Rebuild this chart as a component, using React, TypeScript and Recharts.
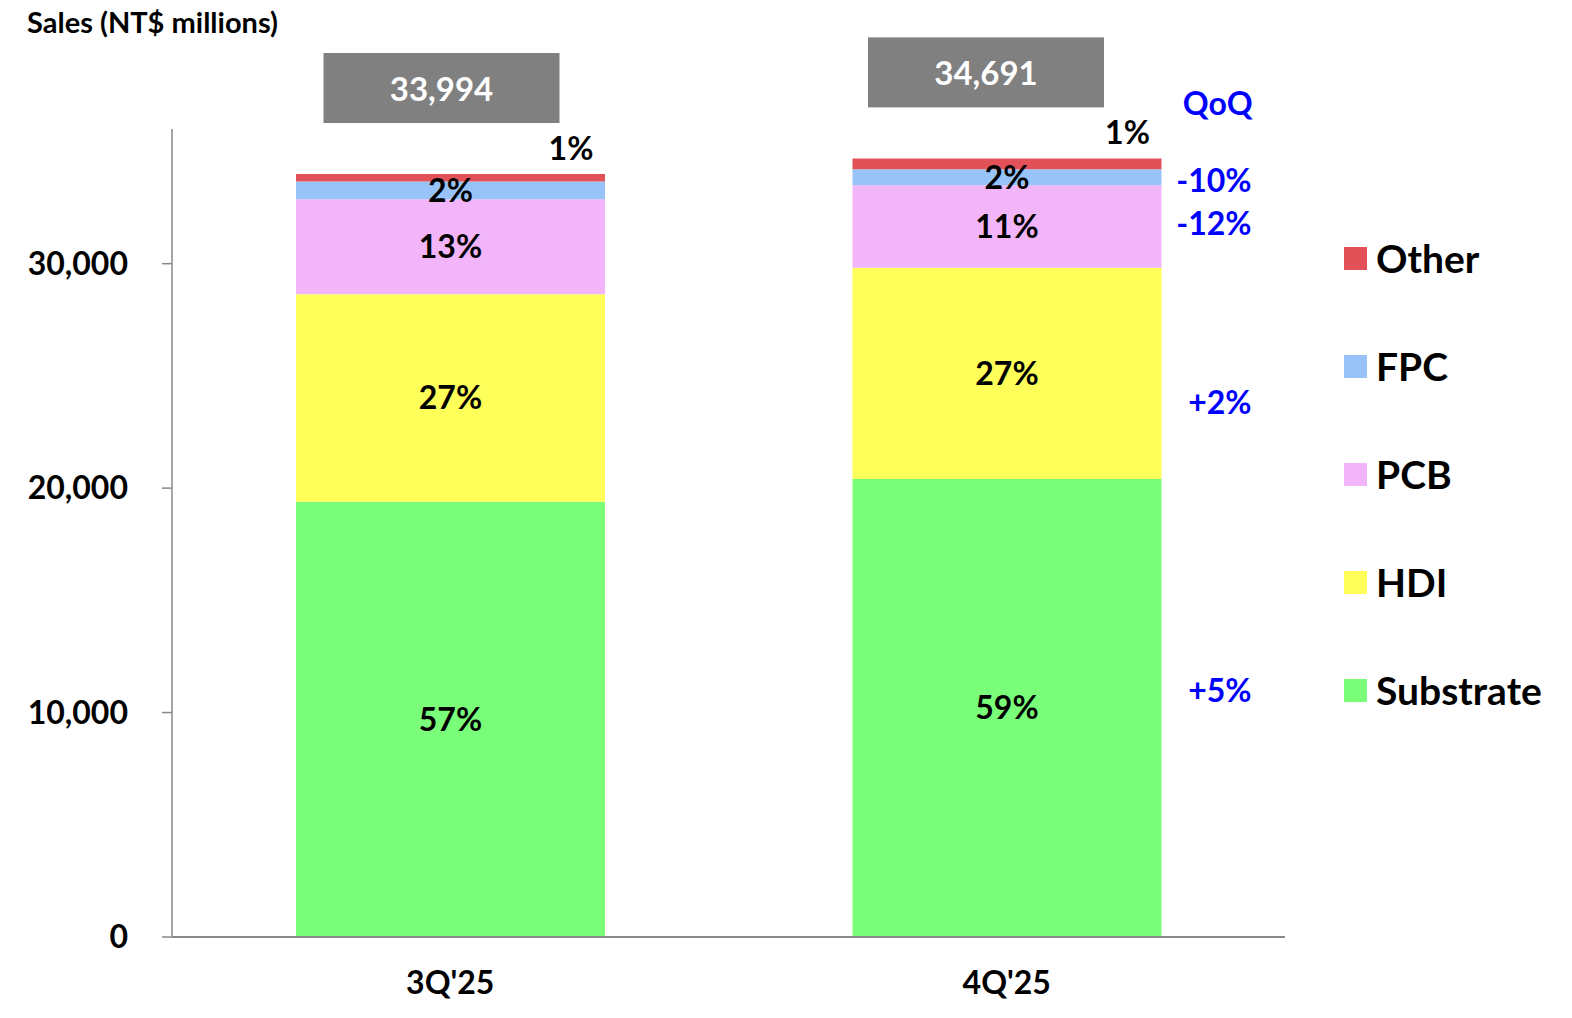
import { BarChart, Bar, XAxis, YAxis, Legend, LabelList } from 'recharts'

const FONT = 'Lato, "Open Sans", sans-serif'

// values (NT$ millions)
const quarters = ["3Q'25", "4Q'25"]
const substrate = [19390, 20401]
const hdi = [9251, 9412]
const pcb = [4232, 3684]
const fpc = [789, 712]
const other = [332, 482]
const totals = [33994, 34691]

// share labels as printed on the slide
const substratePct = ['57%', '59%']
const hdiPct = ['27%', '27%']
const pcbPct = ['13%', '11%']
const fpcPct = ['2%', '2%']
const otherPct = ['1%', '1%']

// QoQ change, shown next to the latest quarter only
const substrateQoq = ['', '+5%']
const hdiQoq = ['', '+2%']
const pcbQoq = ['', '-12%']
const fpcQoq = ['', '-10%']
const qoqHeader = ['', 'QoQ']

const yTicks = [0, 10000, 20000, 30000]

const series = [
  { key: 'Substrate', color: '#7AFE7A', values: substrate, pct: substratePct, qoq: substrateQoq, qoqDy: -19 },
  { key: 'HDI', color: '#FFFF59', values: hdi, pct: hdiPct, qoq: hdiQoq, qoqDy: 28 },
  { key: 'PCB', color: '#F3B5F9', values: pcb, pct: pcbPct, qoq: pcbQoq, qoqDy: -4 },
  { key: 'FPC', color: '#97C3F8', values: fpc, pct: fpcPct, qoq: fpcQoq, qoqDy: 2 },
]

// the grey total boxes sit a little left of the bar centre
const boxShift = [-9, -21]

const data = quarters.map((q, i) => {
  const row: Record<string, string | number> = {
    quarter: q,
    Other: other[i],
    OtherPct: otherPct[i],
    total: totals[i],
    qoqHeader: qoqHeader[i],
  }
  series.forEach((s) => {
    row[s.key] = s.values[i]
    row[`${s.key}Pct`] = s.pct[i]
    row[`${s.key}Qoq`] = s.qoq[i]
  })
  return row
})

const legendItems = [
  { key: 'Other', color: '#E25058' },
  ...[...series].reverse().map((s) => ({ key: s.key, color: s.color })),
]

function rectOf(props: any) {
  const vb = props.viewBox || props
  return { x: Number(vb.x), y: Number(vb.y), width: Number(vb.width), height: Number(vb.height) }
}

function TotalBox(props: any) {
  const { x, y, width } = rectOf(props)
  const cx = x + width / 2 + (boxShift[props.index] ?? -14)
  return (
    <g>
      <rect x={cx - 118} y={y - 121} width={236} height={70} fill="#808080" />
      <text x={cx} y={y - 86} textAnchor="middle" dominantBaseline="central" fill="#fff" fontSize={33} fontWeight={700} fontFamily={FONT}>
        {Number(props.value).toLocaleString('en-US')}
      </text>
    </g>
  )
}

function OtherLabel(props: any) {
  const { x, y, width } = rectOf(props)
  return (
    <text x={x + width * 0.89} y={y - 27} textAnchor="middle" dominantBaseline="central" fill="#000" fontSize={32} fontWeight={700} fontFamily={FONT}>
      {props.value}
    </text>
  )
}

function QoqHeader(props: any) {
  if (!props.value) return null
  const { x, y, width } = rectOf(props)
  return (
    <text x={x + width + 91} y={y - 56} textAnchor="end" dominantBaseline="central" fill="#0000FF" fontSize={32} fontWeight={700} fontFamily={FONT}>
      {props.value}
    </text>
  )
}

function qoqLabel(dy: number) {
  return (props: any) => {
    if (!props.value) return null
    const { x, y, width, height } = rectOf(props)
    return (
      <text x={x + width + 90} y={y + height / 2 + dy} textAnchor="end" dominantBaseline="central" fill="#0000FF" fontSize={32} fontWeight={700} fontFamily={FONT}>
        {props.value}
      </text>
    )
  }
}

function renderLegend() {
  return (
    <div style={{ fontFamily: FONT, fontWeight: 700, fontSize: 39, color: '#000' }}>
      {legendItems.map((item) => (
        <div key={item.key} style={{ display: 'flex', alignItems: 'center', height: 108 }}>
          <span style={{ display: 'inline-block', width: 23, height: 23, background: item.color, marginRight: 9 }} />
          <span>{item.key}</span>
        </div>
      ))}
    </div>
  )
}

export default function App() {
  return (
    <div style={{ position: 'absolute', left: 0, top: 0, width: 1572, height: 1018, background: '#fff', fontFamily: FONT }}>
      <div style={{ position: 'absolute', left: 27, top: 7, fontSize: 29, lineHeight: '30px', fontWeight: 700, color: '#000' }}>
        Sales (NT$ millions)
      </div>
      <BarChart width={1572} height={1018} data={data} margin={{ top: 129, right: 287, left: 0, bottom: 21 }}>
        <XAxis
          dataKey="quarter"
          height={60}
          axisLine={{ stroke: '#898989', strokeWidth: 2 }}
          tickLine={false}
          tickSize={0}
          tickMargin={34}
          tick={{ fill: '#000', fontSize: 32, fontWeight: 700, fontFamily: FONT }}
        />
        <YAxis
          width={172}
          domain={[0, 36000]}
          ticks={yTicks}
          interval={0}
          tickFormatter={(v: number) => v.toLocaleString('en-US')}
          axisLine={{ stroke: '#898989', strokeWidth: 1.5 }}
          tickLine={{ stroke: '#898989', strokeWidth: 1.5 }}
          tickSize={10}
          tickMargin={34}
          tick={{ fill: '#000', fontSize: 32, fontWeight: 700, fontFamily: FONT }}
        />
        <Legend
          layout="vertical"
          align="center"
          verticalAlign="middle"
          content={renderLegend}
          wrapperStyle={{ left: 1344, top: 204, width: 228 }}
        />
        {series.map((s) => (
          <Bar key={s.key} dataKey={s.key} stackId="sales" fill={s.color} barSize={309} isAnimationActive={false}>
            <LabelList dataKey={`${s.key}Pct`} position="center" fill="#000" fontSize={32} fontWeight={700} fontFamily={FONT} />
            <LabelList dataKey={`${s.key}Qoq`} content={qoqLabel(s.qoqDy)} />
          </Bar>
        ))}
        <Bar dataKey="Other" stackId="sales" fill="#E25058" barSize={309} isAnimationActive={false}>
          <LabelList dataKey="OtherPct" content={OtherLabel} />
          <LabelList dataKey="total" content={TotalBox} />
          <LabelList dataKey="qoqHeader" content={QoqHeader} />
        </Bar>
      </BarChart>
    </div>
  )
}
